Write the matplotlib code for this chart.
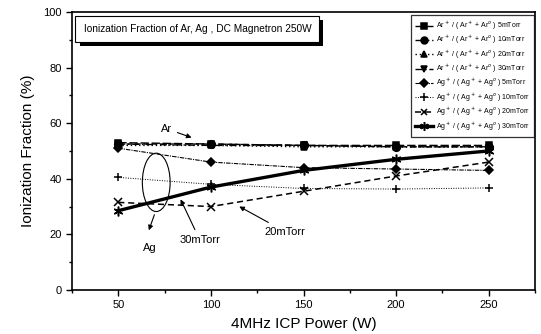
import numpy as np
import matplotlib
matplotlib.use("Agg")
import matplotlib.pyplot as plt
import matplotlib.patheffects as pe
from matplotlib.patches import Ellipse

plt.rcParams['font.family'] = ['Liberation Sans', 'DejaVu Sans']

# ---- data ---------------------------------------------------------------
power = [50, 100, 150, 200, 250]
ar_5 = [53.0, 52.5, 52.0, 52.0, 52.0]
ar_10 = [52.5, 52.5, 52.0, 51.5, 51.5]
ar_20 = [52.0, 52.0, 51.5, 51.5, 51.5]
ar_30 = [52.5, 52.0, 52.0, 51.5, 51.5]
ag_5 = [51.0, 46.0, 44.0, 43.5, 43.0]
ag_10 = [40.5, 38.0, 36.5, 36.3, 36.7]
ag_20 = [31.5, 30.0, 35.5, 41.0, 46.0]
ag_30 = [28.5, 37.0, 43.0, 47.0, 50.0]

labels = [
    "Ar$^+$ / ( Ar$^+$ + Ar$^o$ ) 5mTorr",
    "Ar$^+$ / ( Ar$^+$ + Ar$^o$ ) 10mTorr",
    "Ar$^+$ / ( Ar$^+$ + Ar$^o$ ) 20mTorr",
    "Ar$^+$ / ( Ar$^+$ + Ar$^o$ ) 30mTorr",
    "Ag$^+$ / ( Ag$^+$ + Ag$^o$ ) 5mTorr",
    "Ag$^+$ / ( Ag$^+$ + Ag$^o$ ) 10mTorr",
    "Ag$^+$ / ( Ag$^+$ + Ag$^o$ ) 20mTorr",
    "Ag$^+$ / ( Ag$^+$ + Ag$^o$ ) 30mTorr",
]
series = [ar_5, ar_10, ar_20, ar_30, ag_5, ag_10, ag_20, ag_30]
styles = [  # (marker, linestyle, linewidth, markersize)
    ("s", (0, (6, 2)), 1.0, 4.5),
    ("o", (0, (4, 2)), 1.0, 5.5),
    ("^", (0, (1, 2)), 1.0, 5),
    ("v", (0, (5, 2, 1, 2)), 1.0, 5),
    ("D", (0, (4, 1, 1, 1)), 0.8, 4),
    ("+", (0, (1, 1.5)), 0.7, 6),
    ("x", (0, (4, 2.5)), 1.1, 5.5),
    ((6, 2, 0), "-", 2.4, 7),
]

fig, ax = plt.subplots(figsize=(5.41, 3.34), dpi=100)
fig.subplots_adjust(left=0.133, right=0.989, top=0.964, bottom=0.132)

for y, lab, (mk, ls, lw, ms) in zip(series, labels, styles):
    ax.plot(power, y, color="black", marker=mk, linestyle=ls, lw=lw,
            markersize=ms, markeredgewidth=1.1, label=lab)

ax.set_xlim(25, 275)
ax.set_ylim(0, 100)
ax.set_xticks(power)
ax.set_xticks(np.arange(25, 276, 25), minor=True)
ax.set_yticks(np.arange(0, 101, 20))
ax.set_yticks(np.arange(0, 101, 10), minor=True)
ax.tick_params(which="both", direction="out", labelsize=8, width=1)
ax.tick_params(which="major", length=4)
ax.tick_params(which="minor", length=2)
for sp in ax.spines.values():
    sp.set_linewidth(1.2)
ax.set_xlabel("4MHz ICP Power (W)", fontsize=11, labelpad=5)
ax.set_ylabel("Ionization Fraction (%)", fontsize=11, labelpad=6)

leg = ax.legend(loc="upper right", fontsize=5.0, frameon=True, fancybox=False,
                edgecolor="black", handlelength=2.6, borderpad=0.6,
                labelspacing=0.3, handletextpad=0.3, markerscale=0.9,
                bbox_to_anchor=(1.005, 1.0))
leg.get_frame().set_linewidth(0.9)

# title box with shadow
t = ax.text(0.025, 0.94, "Ionization Fraction of Ar, Ag , DC Magnetron 250W",
            transform=ax.transAxes, fontsize=7.3, va="center", ha="left",
            bbox=dict(boxstyle="square,pad=0.8", fc="white", ec="black", lw=0.8))
t.get_bbox_patch().set_path_effects([
    pe.SimplePatchShadow(offset=(3, -3), shadow_rgbFace="black", alpha=1.0),
    pe.Normal()])

# annotations
ell = Ellipse((70.5, 38.7), 15, 21, fill=False, ec="black", lw=0.8)
ax.add_patch(ell)
arrow = dict(arrowstyle="-|>", color="black", lw=0.8, mutation_scale=7)
ax.annotate("Ar", xy=(91, 54.5), xytext=(76, 58), fontsize=8,
            ha="center", va="center", arrowprops=arrow)
ax.text(67, 15, "Ag", fontsize=8, ha="center", va="center")
ax.annotate("", xy=(66, 20.5), xytext=(70, 28), arrowprops=arrow)
ax.annotate("30mTorr", xy=(83, 33.5), xytext=(94, 18), fontsize=8,
            ha="center", va="center", arrowprops=arrow)
ax.annotate("20mTorr", xy=(114, 30.5), xytext=(140, 21), fontsize=8,
            ha="center", va="center", arrowprops=arrow)

fig.savefig("out.png", dpi=100)
